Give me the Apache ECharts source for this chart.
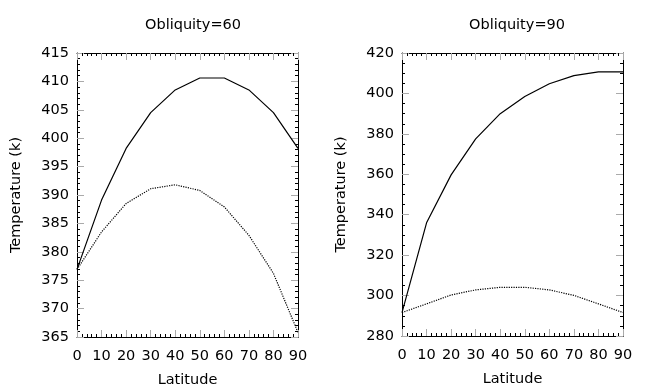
<!DOCTYPE html>
<html>
<head>
<meta charset="utf-8">
<script src="https://cdn.jsdelivr.net/npm/echarts@6/dist/echarts.min.js"></script>
<style>
  html, body { margin: 0; padding: 0; background: #fff; }
  #main { width: 650px; height: 390px; }
</style>
</head>
<body>
<div id="main"></div>
<script>
// latitude (x values)
var latitude = [0, 10, 20, 30, 40, 50, 60, 70, 80, 90];

// obliquity = 60
var obl60Solid  = [376.9, 389.1, 398.2, 404.5, 408.5, 410.6, 410.6, 408.5, 404.5, 398.2];
var obl60Dotted = [376.9, 383.5, 388.5, 391.1, 391.8, 390.8, 387.9, 382.9, 376.2, 365.8];

// obliquity = 90
var obl90Solid  = [291.6, 336.0, 359.7, 377.5, 390.0, 398.5, 404.8, 408.8, 410.7, 410.7];
var obl90Dotted = [291.6, 295.9, 300.3, 302.8, 304.1, 304.1, 302.8, 300.1, 295.9, 291.6];

var titles = ['Obliquity=60', 'Obliquity=90'];

var chart = echarts.init(document.getElementById('main'));
var font = 'DejaVu Sans';
var fs = 14.5;

// panel boxes
var boxes = [
  { left: 77, top: 53, width: 221, height: 284, outerBoundsMode: 'none' },
  { left: 402, top: 53, width: 221, height: 283, outerBoundsMode: 'none' }
];
var yRanges = [[365, 415, 5, 5], [280, 420, 20, 4]];

function pairs(ys) {
  return latitude.map(function (x, i) { return [x, ys[i]]; });
}

// labelled axis (no ticks) or tick-only axis placed on the opposite edge
// through a negative offset so its outward ticks point into the plot
function xAxisFor(gi, pos, offset, labelled, showLine) {
  return {
    type: 'value', gridIndex: gi, position: pos, offset: offset,
    min: 0, max: 90, interval: 10,
    axisLine: { show: showLine, onZero: false, lineStyle: { color: '#000', width: 1 } },
    axisTick: { show: !labelled, length: 7, lineStyle: { color: '#aaa', width: 1 } },
    minorTick: { show: !labelled, splitNumber: 5, length: 3, lineStyle: { color: '#000' } },
    axisLabel: { show: labelled, color: '#000', fontFamily: font, fontSize: fs, margin: 12 },
    splitLine: { show: false },
    name: labelled ? 'Latitude' : '',
    nameLocation: 'middle', nameGap: 36,
    nameTextStyle: { color: '#000', fontFamily: font, fontSize: fs }
  };
}

function yAxisFor(gi, pos, offset, labelled, showLine, r) {
  return {
    type: 'value', gridIndex: gi, position: pos, offset: offset,
    min: r[0], max: r[1], interval: r[2],
    axisLine: { show: showLine, onZero: false, lineStyle: { color: '#000', width: 1 } },
    axisTick: { show: !labelled, length: 7, lineStyle: { color: '#aaa', width: 1 } },
    minorTick: { show: !labelled, splitNumber: r[3], length: 3, lineStyle: { color: '#000' } },
    axisLabel: { show: labelled, color: '#000', fontFamily: font, fontSize: fs, margin: 8 },
    splitLine: { show: false },
    name: labelled ? 'Temperature (k)' : '',
    nameLocation: 'middle', nameGap: 53, nameRotate: 90,
    nameTextStyle: { color: '#000', fontFamily: font, fontSize: fs }
  };
}

var grids = [], xAxes = [], yAxes = [];
boxes.forEach(function (b, p) {
  var ga = p * 2, gb = p * 2 + 1;
  grids.push(b, b);
  // grid A: labelled bottom/left + ticks on bottom/left edges
  xAxes.push(xAxisFor(ga, 'bottom', 0, true, true));
  xAxes.push(xAxisFor(ga, 'top', -b.height, false, false));
  yAxes.push(yAxisFor(ga, 'left', 0, true, true, yRanges[p]));
  yAxes.push(yAxisFor(ga, 'right', -b.width, false, false, yRanges[p]));
  // grid B: ticks and lines on top/right edges
  xAxes.push(xAxisFor(gb, 'bottom', -b.height, false, true));
  yAxes.push(yAxisFor(gb, 'left', -b.width, false, true, yRanges[p]));
});

function line(ai, ys, type) {
  return {
    type: 'line', xAxisIndex: ai, yAxisIndex: ai,
    data: pairs(ys), symbol: 'none', animation: false,
    lineStyle: { color: '#000', width: 1.2, type: type }
  };
}

var titleStyle = { fontFamily: font, fontSize: fs, fontWeight: 'normal', color: '#000' };

var option = {
  backgroundColor: '#fff',
  animation: false,
  title: [
    { text: titles[0], left: 188, top: 13, textAlign: 'center', textStyle: titleStyle },
    { text: titles[1], left: 512, top: 13, textAlign: 'center', textStyle: titleStyle }
  ],
  grid: grids,
  xAxis: xAxes,
  yAxis: yAxes,
  series: [
    line(0, obl60Solid, 'solid'),
    line(0, obl60Dotted, 'dotted'),
    line(3, obl90Solid, 'solid'),
    line(3, obl90Dotted, 'dotted')
  ]
};

chart.setOption(option);
</script>
</body>
</html>
